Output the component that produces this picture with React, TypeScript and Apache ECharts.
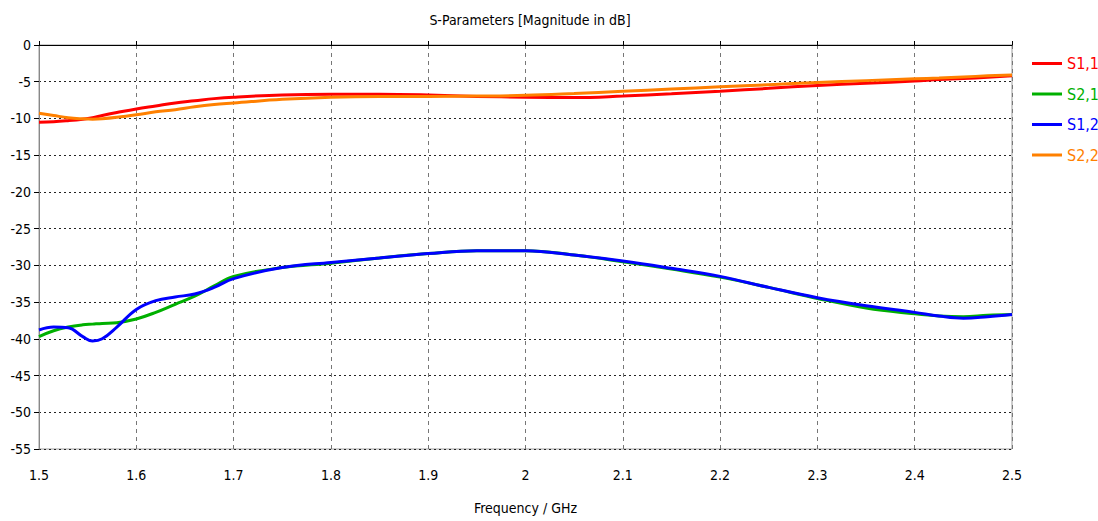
import React, { useEffect, useRef } from "react";
import * as echarts from "echarts";

const freq = [1.5, 1.515, 1.53, 1.545, 1.555, 1.565, 1.58, 1.6, 1.62, 1.64, 1.66, 1.68, 1.7, 1.75, 1.8, 1.85, 1.9, 1.95, 2.0, 2.05, 2.1, 2.15, 2.2, 2.25, 2.3, 2.35, 2.4, 2.425, 2.45, 2.475, 2.5];

const s11 = [-10.5, -10.45, -10.3, -10.1, -9.9, -9.6, -9.2, -8.7, -8.3, -7.9, -7.6, -7.3, -7.1, -6.8, -6.7, -6.7, -6.8, -7.0, -7.1, -7.15, -6.95, -6.65, -6.3, -5.9, -5.5, -5.2, -4.9, -4.7, -4.55, -4.4, -4.2];
const s21 = [-39.7, -38.9, -38.4, -38.1, -38.0, -37.9, -37.8, -37.3, -36.4, -35.3, -34.2, -32.8, -31.5, -30.3, -29.7, -29.0, -28.4, -28.0, -28.0, -28.6, -29.5, -30.5, -31.6, -33.0, -34.5, -35.8, -36.6, -36.9, -37.0, -36.8, -36.7];
const s12 = [-38.8, -38.4, -38.5, -39.7, -40.3, -40.0, -38.4, -36.0, -34.8, -34.3, -33.9, -33.0, -31.8, -30.3, -29.6, -29.0, -28.4, -28.0, -28.0, -28.6, -29.4, -30.4, -31.5, -33.0, -34.4, -35.5, -36.4, -36.9, -37.2, -37.0, -36.7];
const s22 = [-9.3, -9.6, -9.9, -10.05, -10.1, -10.05, -9.85, -9.5, -9.1, -8.8, -8.4, -8.1, -7.9, -7.4, -7.1, -7.0, -7.0, -6.95, -6.85, -6.6, -6.3, -6.0, -5.7, -5.4, -5.1, -4.85, -4.6, -4.5, -4.35, -4.2, -4.1];

const seriesNames = ["S1,1", "S2,1", "S1,2", "S2,2"];
const seriesColors = ["#ff0000", "#00b000", "#0000ff", "#ff8000"];
const seriesValues = [s11, s21, s12, s22];

const FONT = "'DejaVu Sans Condensed', 'Liberation Sans Narrow', 'DejaVu Sans', sans-serif";

export default function App() {
  const ref = useRef<HTMLDivElement>(null);
  useEffect(() => {
    document.body.style.margin = "0";
    if (!ref.current) return;
    const chart = echarts.init(ref.current, null, { renderer: "svg" });
    chart.setOption({
      animation: false,
      backgroundColor: "#ffffff",
      title: {
        text: "S-Parameters [Magnitude in dB]",
        left: 525,
        textAlign: "center",
        top: 8,
        textStyle: { fontFamily: FONT, fontSize: 14, fontWeight: "normal", color: "#000" },
      },
      legend: {
        orient: "vertical",
        left: 1027,
        top: 50,
        itemWidth: 30,
        itemHeight: 3,
        itemGap: 13.5,
        icon: "rect",
        textStyle: { fontFamily: FONT, fontSize: 16, lineHeight: 17 },
        data: seriesNames.map((n, i) => ({ name: n, textStyle: { color: seriesColors[i] } })),
      },
      grid: {
        left: 39,
        right: 86,
        top: 45,
        bottom: 72,
        show: true,
        borderColor: "#9a9a9a",
        borderWidth: 1,
      },
      xAxis: {
        type: "value",
        min: 1.5,
        max: 2.5,
        interval: 0.1,
        name: "Frequency / GHz",
        nameLocation: "middle",
        nameGap: 52,
        nameTextStyle: { fontFamily: FONT, fontSize: 14, color: "#000" },
        axisLine: { show: true, lineStyle: { color: "#000", width: 1 } },
        axisTick: { show: true, inside: true, length: 4, lineStyle: { color: "#000" } },
        axisLabel: { fontFamily: FONT, fontSize: 14, color: "#000", margin: 19 },
        splitLine: { show: true, lineStyle: { color: "#777", type: [4, 4], width: 1 } },
      },
      yAxis: {
        type: "value",
        min: -55,
        max: 0,
        interval: 5,
        axisLine: { show: true, lineStyle: { color: "#888", width: 1 } },
        axisTick: { show: true, length: 5, lineStyle: { color: "#000" } },
        axisLabel: { fontFamily: FONT, fontSize: 14, color: "#000", margin: 8 },
        splitLine: { show: true, lineStyle: { color: "#222", type: [2, 3], width: 1 } },
      },
      series: seriesNames.map((n, i) => ({
        name: n,
        type: "line",
        smooth: 0.4,
        symbol: "none",
        lineStyle: { color: seriesColors[i], width: 3 },
        itemStyle: { color: seriesColors[i] },
        data: freq.map((f, j) => [f, seriesValues[i][j]]),
      })),
    });
    return () => chart.dispose();
  }, []);
  return <div ref={ref} style={{ width: 1098, height: 521 }} />;
}
